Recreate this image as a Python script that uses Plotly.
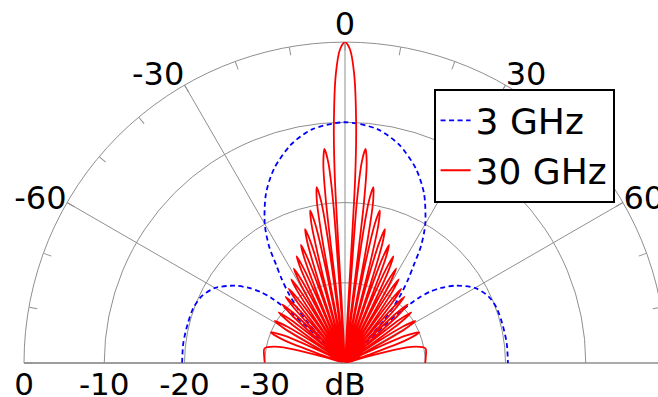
import plotly.graph_objects as go

# ---------------- data ----------------
# 3 GHz pattern: angle (deg) and gain (dB)
THETA_3GHZ = [-90, -83, -76, -70, -65, -60, -55, -52, -50, -48.5, -47, -46, -45,
              -44, -42.5, -41, -39, -37, -35, -33, -30, -25, -20, -14, -8,
              0,
              8, 14, 20, 25, 30, 33, 35, 37, 39, 41, 42.5, 44,
              45, 46, 47, 48.5, 50, 52, 55, 60, 65, 70, 76, 83, 90]
DB_3GHZ = [-19.7, -19.7, -19.8, -19.9, -20.3, -21.3, -23.2, -24.8, -26.2, -27.8, -31.0, -36.0, -40.0,
           -36.5, -33.0, -31.0, -28.8, -26.9, -25.0, -22.6, -20.0, -16.7, -14.2, -12.0, -10.6,
           -10.0,
           -10.6, -12.0, -14.2, -16.7, -20.0, -22.6, -25.0, -26.9, -28.8, -31.0, -33.0, -36.5,
           -40.0, -36.0, -31.0, -27.8, -26.2, -24.8, -23.2, -21.3, -20.3, -19.9, -19.8, -19.7, -19.7]

# 30 GHz pattern: angle (deg) and gain (dB), one lobe per line
THETA_30GHZ = [
    -90, -85.5, -79.8, -76.3, -74.2, -72.27,
    -70.85, -69.42, -67.52, -65.61, -64.19, -62.76,
    -61.69, -60.62, -59.20, -57.77, -56.70, -55.63,
    -54.73, -53.83, -52.64, -51.44, -50.54, -49.64,
    -48.84, -48.04, -46.97, -45.90, -45.10, -44.30,
    -43.57, -42.84, -41.86, -40.88, -40.15, -39.42,
    -38.74, -38.05, -37.14, -36.22, -35.54, -34.86,
    -34.21, -33.56, -32.69, -31.83, -31.18, -30.53,
    -29.91, -29.29, -28.46, -27.63, -27.01, -26.39,
    -25.79, -25.19, -24.39, -23.59, -22.99, -22.40,
    -21.81, -21.23, -20.45, -19.68, -19.09, -18.51,
    -17.94, -17.37, -16.61, -15.85, -15.28, -14.71,
    -14.15, -13.59, -12.85, -12.10, -11.54, -10.98,
    -10.43, -9.88, -9.14, -8.40, -7.85, -7.30,
    -6.75, -6.20, -5.47, -4.74, -4.19, -3.64,
    -3.15, -2.7, -1.8, -0.9,
    0,
    0.9, 1.8, 2.7, 3.15,
    3.64, 4.19, 4.74, 5.47, 6.20, 6.75,
    7.30, 7.85, 8.40, 9.14, 9.88, 10.43,
    10.98, 11.54, 12.10, 12.85, 13.59, 14.15,
    14.71, 15.28, 15.85, 16.61, 17.37, 17.94,
    18.51, 19.09, 19.68, 20.45, 21.23, 21.81,
    22.40, 22.99, 23.59, 24.39, 25.19, 25.79,
    26.39, 27.01, 27.63, 28.46, 29.29, 29.91,
    30.53, 31.18, 31.83, 32.69, 33.56, 34.21,
    34.86, 35.54, 36.22, 37.14, 38.05, 38.74,
    39.42, 40.15, 40.88, 41.86, 42.84, 43.57,
    44.30, 45.10, 45.90, 46.97, 48.04, 48.84,
    49.64, 50.54, 51.44, 52.64, 53.83, 54.73,
    55.63, 56.70, 57.77, 59.20, 60.62, 61.69,
    62.76, 64.19, 65.61, 67.52, 69.42, 70.85,
    72.27, 74.2, 76.3, 79.8, 85.5, 90,
]
DB_30GHZ = [
    -30.0, -29.9, -29.8, -31.5, -36.5, -40,
    -36.9, -31.8, -30.0, -31.8, -36.9, -40,
    -36.7, -31.6, -29.8, -31.6, -36.7, -40,
    -36.5, -31.4, -29.6, -31.4, -36.5, -40,
    -36.2, -31.1, -29.3, -31.1, -36.2, -40,
    -35.8, -30.7, -28.9, -30.7, -35.8, -40,
    -35.3, -30.2, -28.4, -30.2, -35.3, -40,
    -34.5, -29.4, -27.6, -29.4, -34.5, -40,
    -33.5, -28.4, -26.6, -28.4, -33.5, -40,
    -32.3, -27.2, -25.4, -27.2, -32.3, -40,
    -31.2, -26.1, -24.3, -26.1, -31.2, -40,
    -29.5, -24.4, -22.6, -24.4, -29.5, -40,
    -27.4, -22.3, -20.5, -22.3, -27.4, -40,
    -24.7, -19.6, -17.8, -19.6, -24.7, -40,
    -20.1, -15.0, -13.2, -15.0, -20.1, -40,
    -17.1, -10.5, -3.9, -0.9,
    0.0,
    -0.9, -3.9, -10.5, -17.1,
    -40, -20.1, -15.0, -13.2, -15.0, -20.1,
    -40, -24.7, -19.6, -17.8, -19.6, -24.7,
    -40, -27.4, -22.3, -20.5, -22.3, -27.4,
    -40, -29.5, -24.4, -22.6, -24.4, -29.5,
    -40, -31.2, -26.1, -24.3, -26.1, -31.2,
    -40, -32.3, -27.2, -25.4, -27.2, -32.3,
    -40, -33.5, -28.4, -26.6, -28.4, -33.5,
    -40, -34.5, -29.4, -27.6, -29.4, -34.5,
    -40, -35.3, -30.2, -28.4, -30.2, -35.3,
    -40, -35.8, -30.7, -28.9, -30.7, -35.8,
    -40, -36.2, -31.1, -29.3, -31.1, -36.2,
    -40, -36.5, -31.4, -29.6, -31.4, -36.5,
    -40, -36.7, -31.6, -29.8, -31.6, -36.7,
    -40, -36.9, -31.8, -30.0, -31.8, -36.9,
    -40, -36.5, -31.5, -29.8, -29.9, -30.0,
]

SERIES_NAMES = ["3 GHz", "30 GHz"]

# axis ticks
RADIAL_RANGE = [-40, 0]
RADIAL_TICKS = [-40, -30, -20, -10, 0]
RADIAL_LABELS = ["dB", "-30", "-20", "-10", "0"]
RADIAL_GRID = [-30, -20, -10]
ANGLE_GRID = [-90, -60, -30, 0, 30, 60, 90]
ANGLE_TICKS = [-90, -80, -70, -60, -50, -40, -30, -20, -10, 0,
               10, 20, 30, 40, 50, 60, 70, 80, 90]
ANGLE_LABELS = ["", "", "", "-60", "", "", "-30", "", "", "0",
                "", "", "30", "", "", "60", "", "", ""]

assert len(THETA_3GHZ) == len(DB_3GHZ)
assert len(THETA_30GHZ) == len(DB_30GHZ)

GRAY = "#8f8f8f"
FONT = "DejaVu Sans"

fig = go.Figure()
# empty traces so that the grid-only polar subplot and the label axis get drawn
fig.add_trace(go.Scatterpolar(
    theta=[], r=[], mode="lines", showlegend=False, hoverinfo="skip",
    subplot="polar",
))
fig.add_trace(go.Scatter(
    x=[], y=[], mode="lines", showlegend=False, hoverinfo="skip",
    xaxis="x", yaxis="y",
))
fig.add_trace(go.Scatterpolar(
    theta=THETA_3GHZ, r=DB_3GHZ, mode="lines", name=SERIES_NAMES[0],
    line=dict(color="#0000ff", width=1.8, dash="5px,3.5px", shape="spline", smoothing=0.8),
    subplot="polar2",
))
fig.add_trace(go.Scatterpolar(
    theta=THETA_30GHZ, r=DB_30GHZ, mode="lines", name=SERIES_NAMES[1],
    line=dict(color="#ff0000", width=1.8, shape="spline", smoothing=0.8),
    subplot="polar2",
))

common_ang = dict(rotation=90, direction="clockwise", thetaunit="degrees")

fig.update_layout(
    width=666, height=397,
    margin=dict(l=24, r=0, t=42, b=34),
    paper_bgcolor="white",
    plot_bgcolor="rgba(0,0,0,0)",
    template="none",
    font=dict(family=FONT, size=31, color="black"),
    showlegend=True,
    legend=dict(
        x=0.638, y=0.855, xanchor="left", yanchor="top",
        bgcolor="white", bordercolor="black", borderwidth=2,
        font=dict(family=FONT, size=36, color="black"),
        tracegroupgap=0, itemwidth=30,
    ),
    # radial (dB) labels along the left half of the baseline
    xaxis=dict(
        domain=[0, 0.5], range=[RADIAL_RANGE[1], RADIAL_RANGE[0]],
        tickmode="array", tickvals=RADIAL_TICKS, ticktext=RADIAL_LABELS,
        showgrid=False, zeroline=False, showline=False, ticks="",
        tickfont=dict(family=FONT, size=31, color="black"),
        fixedrange=True,
    ),
    yaxis=dict(domain=[0, 1], visible=False, fixedrange=True),
    polar=dict(
        domain=dict(x=[0, 1], y=[0, 1]),
        sector=[0, 180],
        bgcolor="white",
        angularaxis=dict(
            **common_ang,
            tickmode="array", tickvals=ANGLE_GRID,
            showticklabels=False, ticks="",
            showgrid=True, gridcolor=GRAY, gridwidth=1,
            showline=True, linecolor=GRAY, linewidth=1,
        ),
        radialaxis=dict(
            range=RADIAL_RANGE, tickmode="array", tickvals=RADIAL_GRID,
            showticklabels=False, ticks="",
            showgrid=True, gridcolor=GRAY, gridwidth=1,
            showline=False,
        ),
    ),
    polar2=dict(
        domain=dict(x=[0, 1], y=[0, 1]),
        sector=[0, 180],
        bgcolor="rgba(0,0,0,0)",
        angularaxis=dict(
            **common_ang,
            tickmode="array", tickvals=ANGLE_TICKS, ticktext=ANGLE_LABELS,
            ticks="inside", ticklen=8, tickwidth=1, tickcolor=GRAY,
            showgrid=False, showline=False,
            tickfont=dict(family=FONT, size=32, color="black"),
        ),
        radialaxis=dict(
            range=RADIAL_RANGE, angle=180,
            showticklabels=False, ticks="", showgrid=False,
            showline=True, linecolor=GRAY, linewidth=1,
        ),
    ),
)

fig.write_html(
    "out.html",
    post_script="document.documentElement.style.overflow='hidden';document.body.style.overflow='hidden';",
)
